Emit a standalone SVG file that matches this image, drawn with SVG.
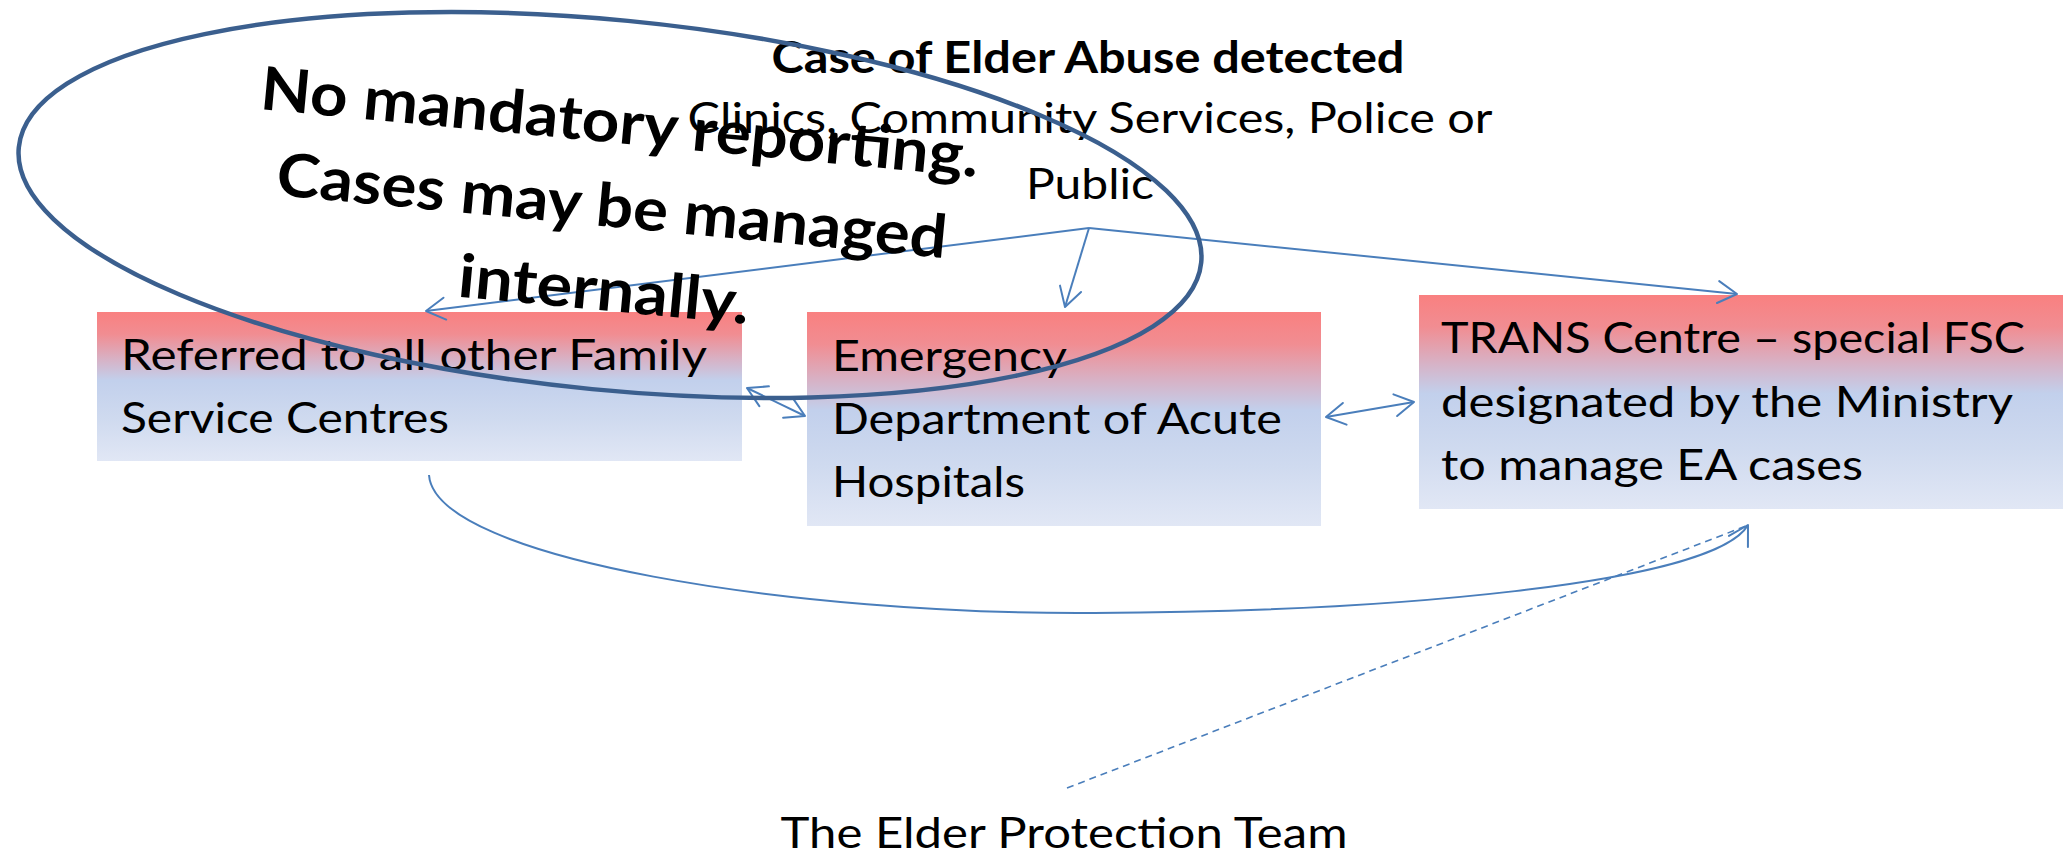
<svg xmlns="http://www.w3.org/2000/svg" width="2065" height="855" viewBox="0 0 2065 855">
  <style>
    .t { font-family: Lato, "Liberation Sans", sans-serif; font-size: 43px; fill: #000; }
    .b { font-weight: bold; }
    .big { font-family: Lato, "Liberation Sans", sans-serif; font-size: 60px; font-weight: bold; fill: #000; }
    .box { fill: url(#boxFill); }
    .conn { fill: none; stroke: #4A7EBB; stroke-width: 2; }
    .dash { stroke-dasharray: 7 5; stroke-width: 1.6; }
  </style>
  <defs>
    <linearGradient id="boxFill" x1="0" y1="0" x2="0" y2="1">
      <stop offset="0" stop-color="#F98080"/>
      <stop offset="0.15" stop-color="#F18D92"/>
      <stop offset="0.32" stop-color="#D7B2C6"/>
      <stop offset="0.46" stop-color="#C2D0EC"/>
      <stop offset="0.72" stop-color="#CFDAEF"/>
      <stop offset="1" stop-color="#E1E7F5"/>
    </linearGradient>
    <marker id="open" viewBox="-24 -14 27 28" refX="0" refY="0" markerWidth="27" markerHeight="28" markerUnits="userSpaceOnUse" orient="auto-start-reverse">
      <path d="M-19,-11 L0,0 L-19,11" fill="none" stroke="#4A7EBB" stroke-width="2" stroke-linecap="round" stroke-linejoin="round"/>
    </marker>
  </defs>

  <rect width="2065" height="855" fill="#FFFFFF"/>

  <!-- referral boxes -->
  <g id="box-fsc">
    <rect class="box" x="97" y="312" width="645" height="149"/>
    <text class="t" x="121" y="370" textLength="586" lengthAdjust="spacingAndGlyphs">Referred to all other Family</text>
    <text class="t" x="121" y="433" textLength="328" lengthAdjust="spacingAndGlyphs">Service Centres</text>
  </g>
  <g id="box-ed">
    <rect class="box" x="807" y="312" width="514" height="214"/>
    <text class="t" x="832" y="371" textLength="235" lengthAdjust="spacingAndGlyphs">Emergency</text>
    <text class="t" x="832" y="434" textLength="450" lengthAdjust="spacingAndGlyphs">Department of Acute</text>
    <text class="t" x="832" y="497" textLength="193" lengthAdjust="spacingAndGlyphs">Hospitals</text>
  </g>
  <g id="box-trans">
    <rect class="box" x="1419" y="295" width="644" height="214"/>
    <text class="t" x="1441" y="353" textLength="584" lengthAdjust="spacingAndGlyphs">TRANS Centre – special FSC</text>
    <text class="t" x="1441" y="417" textLength="572" lengthAdjust="spacingAndGlyphs">designated by the Ministry</text>
    <text class="t" x="1441" y="480" textLength="422" lengthAdjust="spacingAndGlyphs">to manage EA cases</text>
  </g>

  <!-- connectors -->
  <g id="connectors">
    <path class="conn" d="M1089,228 L426,311" marker-end="url(#open)"/>
    <path class="conn" d="M1089,228 L1065,307" marker-end="url(#open)"/>
    <path class="conn" d="M1089,228 L1737,294" marker-end="url(#open)"/>
    <path class="conn" d="M747,388 L805,416" marker-start="url(#open)" marker-end="url(#open)"/>
    <path class="conn" d="M1326,417 L1414,402" marker-start="url(#open)" marker-end="url(#open)"/>
    <path class="conn" d="M429,475 C435,560 800,615 1094,613 C1380,612 1713,585 1748,525" marker-end="url(#open)"/>
    <path class="conn dash" d="M1067,788 L1746,526"/>
  </g>

  <!-- detection source -->
  <g id="source">
    <text class="t b" x="1088" y="73" text-anchor="middle" textLength="633" lengthAdjust="spacingAndGlyphs">Case of Elder Abuse detected</text>
    <text class="t" x="1090" y="133" text-anchor="middle" textLength="805" lengthAdjust="spacingAndGlyphs">Clinics, Community Services, Police or</text>
    <text class="t" x="1090" y="199" text-anchor="middle" textLength="128" lengthAdjust="spacingAndGlyphs">Public</text>
  </g>

  <g id="elder-protection-team">
    <text class="t" x="1064" y="848" text-anchor="middle" textLength="567" lengthAdjust="spacingAndGlyphs">The Elder Protection Team</text>
  </g>

  <!-- callout note -->
  <g id="note">
    <g transform="rotate(5.4 618 143)">
      <text class="big" x="618" y="143" text-anchor="middle" textLength="721" lengthAdjust="spacingAndGlyphs">No mandatory reporting.</text>
      <text class="big" x="618" y="227" text-anchor="middle" textLength="673" lengthAdjust="spacingAndGlyphs">Cases may be managed</text>
      <text class="big" x="618" y="311" text-anchor="middle" textLength="292" lengthAdjust="spacingAndGlyphs">internally.</text>
    </g>
    <ellipse cx="610" cy="205" rx="594" ry="185" transform="rotate(5.56 610 205)" fill="none" stroke="#3B5F8E" stroke-width="4.5"/>
  </g>
</svg>
